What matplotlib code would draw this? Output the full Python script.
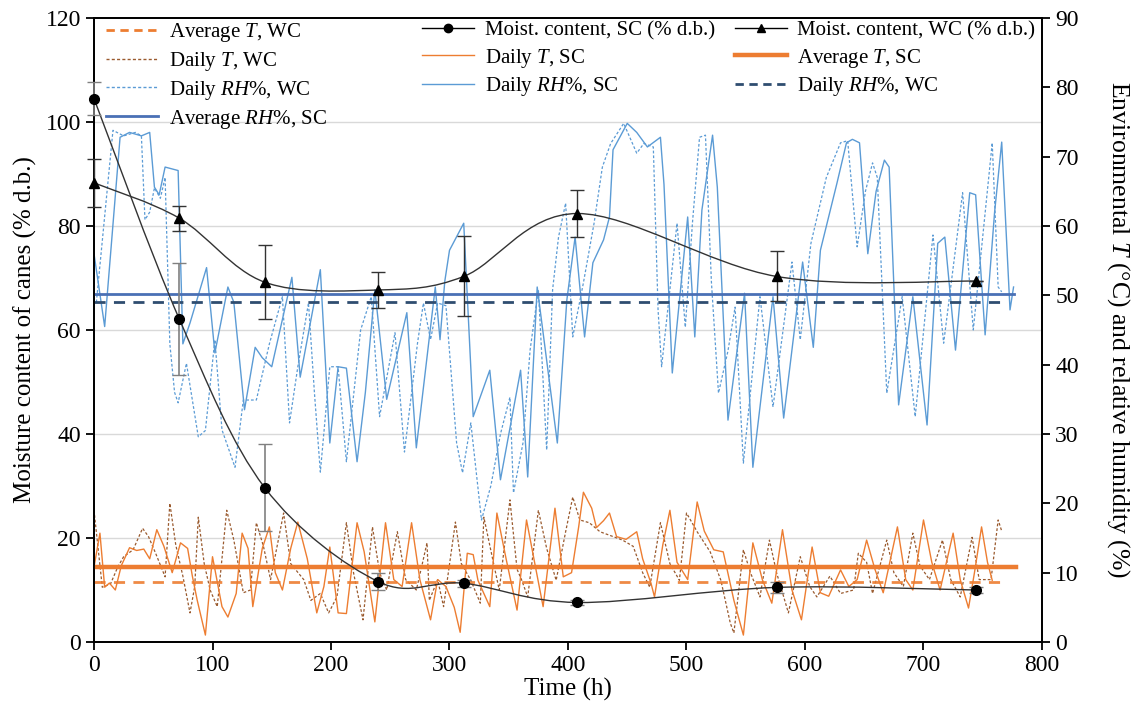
import numpy as np
import matplotlib
matplotlib.use("Agg")
import matplotlib.pyplot as plt
from matplotlib.path import Path
from matplotlib.patches import PathPatch
from matplotlib.lines import Line2D
from matplotlib.legend import Legend

plt.rcParams['font.family'] = ['Liberation Serif', 'DejaVu Serif']
plt.rcParams['mathtext.fontset'] = 'custom'
plt.rcParams['mathtext.rm'] = 'Liberation Serif'
plt.rcParams['mathtext.it'] = 'Liberation Serif:italic'

# moisture content of canes (left axis, % d.b.)
sample_h = [0, 72, 144, 240, 312, 408, 576, 744]
mc_sc = [104.5, 62.1, 29.7, 11.6, 11.3, 7.6, 10.5, 10.0]
mc_sc_err = [3.2, 10.8, 8.3, 1.6, 0.7, 0.4, 1.0, 0.5]
mc_wc = [88.3, 81.5, 69.2, 67.7, 70.3, 82.4, 70.3, 69.4]
mc_wc_err = [4.6, 2.4, 7.1, 3.4, 7.7, 4.6, 4.8, 0.0]

# daily relative humidity (right axis, %)
rh_sc_t = [0, 9, 22, 30, 40, 47, 51, 55, 60, 71, 75, 81, 95, 102, 113, 118, 127, 136, 142, 150,
           167, 174, 191, 199, 206, 213, 222, 229, 237, 247, 264, 272, 288, 292, 296, 300, 312, 320,
           334, 343, 360, 366, 374, 391, 399, 406, 414, 421, 430, 435, 438, 450, 458, 467, 478, 481,
           488, 501, 507, 513, 522, 526, 535, 549, 556, 573, 582, 598, 607, 613, 627, 635, 640, 646,
           653, 660, 667, 671, 679, 691, 703, 712, 718, 727, 739, 744, 752, 760, 766, 773, 776]
rh_sc = [56, 45.5, 72.8, 73.5, 73, 73.5, 65.6, 64.5, 68.5, 68, 43, 46, 54, 41.7, 51.2, 49, 33.5, 42.5, 41, 39.7,
         52.6, 38.2, 53.7, 28.7, 39.7, 39.5, 26, 36, 50.8, 35, 47.5, 28, 51.2, 43.6, 52, 56.5, 60.4, 32.5,
         39.2, 23.4, 39.2, 23.8, 51.2, 28.7, 49.3, 58.4, 44, 54.7, 58, 61.3, 71, 74.8, 73.5, 71.4, 72.8, 66,
         38.8, 61.3, 44, 62.3, 73.1, 65.6, 32, 50.3, 25.2, 49.8, 32.3, 54.8, 42.5, 56.5, 66.2, 72, 72.5, 72,
         56, 65, 69.5, 68.5, 34.2, 49.8, 31.3, 57.5, 58.4, 42.1, 64.8, 64.5, 44.3, 62, 72.1, 47.9, 51.2]

rh_wc_t = [2, 16, 25, 35, 40, 43, 47, 51, 56, 60, 64, 68, 71, 78, 88, 94, 102, 108, 119, 126, 137, 148,
           159, 165, 172, 181, 186, 191, 199, 206, 213, 225, 234, 241, 254, 262, 273, 278, 284, 290, 297,
           306, 311, 318, 327, 335, 343, 351, 354, 362, 368, 375, 382, 387, 392, 398, 404, 413, 422, 429,
           436, 447, 458, 464, 472, 476, 479, 492, 499, 505, 511, 516, 521, 527, 535, 541, 548, 562, 573,
           589, 596, 605, 618, 630, 636, 644, 651, 657, 661, 669, 682, 693, 708, 717, 733, 742, 758, 763, 766]
rh_wc = [49, 73.8, 73, 73.5, 73, 60.9, 62, 65.5, 64, 67, 43, 36, 34.5, 40.2, 29.6, 30.5, 43.6, 30.6, 25.2, 34.9, 34.9, 43,
         49.8, 31.6, 39.7, 48.9, 36, 24.5, 39.7, 39.7, 26, 45, 49.8, 32.5, 44.6, 27.4, 43.1, 48.9, 43.6, 48.9, 48.5,
         28.7, 24.4, 31.6, 17.6, 22.6, 30, 35.3, 21.5, 28.7, 42.1, 50.8, 27.7, 50.8, 58.4, 63.3, 44, 51.8, 60.4, 68.5,
         71.9, 74.8, 70.5, 71.9, 71.4, 47.9, 39.7, 60.4, 45.4, 60.4, 72.8, 73.1, 52, 35.9, 42, 48.3, 25.8, 49.8, 33.9,
         54.8, 43.6, 57.5, 67, 72, 72.3, 57, 65, 69.1, 67, 35.9, 49.8, 32.5, 58.7, 43.1, 64.8, 45, 72, 51.2, 50.5]

# daily temperature (right axis, degC)
t_sc_t = [0, 5, 9, 13, 18, 23, 30, 36, 42, 47, 53, 59, 66, 73, 79, 83, 87, 94, 100, 108, 113, 120, 125, 130,
          134, 142, 148, 153, 159, 166, 172, 180, 188, 194, 199, 206, 213, 222, 228, 237, 246, 253, 260, 268,
          275, 284, 290, 297, 304, 309, 315, 320, 324, 334, 340, 348, 357, 365, 371, 379, 389, 396, 403, 409,
          413, 420, 424, 430, 435, 441, 449, 458, 463, 470, 473, 480, 486, 492, 501, 509, 515, 523, 531, 540,
          548, 556, 564, 572, 581, 589, 597, 606, 613, 620, 630, 637, 644, 652, 659, 666, 678, 685, 691, 700,
          707, 714, 725, 731, 738, 743, 749, 754, 758]
t_sc = [10.8, 15.7, 7.9, 8.5, 7.5, 11, 13.6, 13.2, 13.4, 12, 16.2, 13.8, 10, 14.3, 13.5, 9.5, 6.1, 1, 12.3, 5.1, 3.6, 7, 15.7, 13.5,
        5.1, 13.5, 16.6, 10, 7.5, 13.5, 17.3, 12, 4.2, 8, 13.7, 4.2, 4.1, 17.2, 13, 2.9, 17.2, 9, 8, 17.2,
        9, 3.2, 9, 8, 5, 1.4, 12.8, 12.6, 8.9, 5.1, 18.6, 11.8, 4.6, 17.6, 12.2, 5.1, 19.3, 9.4, 10, 16.6,
        21.6, 19.3, 16.5, 17.5, 18.6, 15.2, 14.8, 15.9, 12, 8.5, 6.5, 14, 19, 11.5, 9, 20.2, 16, 13.3, 13, 6,
        1, 14.3, 9, 5.6, 16.2, 7.5, 3.2, 13.7, 7.1, 6.6, 10.4, 8, 9, 14.7, 10.5, 7.1, 16.6, 9, 7.5, 17.6,
        11.5, 7.5, 15.7, 9, 4.9, 10, 16.6, 11.5, 8.9]

t_wc_t = [0, 7, 14, 20, 25, 33, 41, 46, 52, 60, 64, 69, 75, 81, 85, 88, 93, 98, 104, 112, 118, 126, 132, 137,
          143, 149, 160, 166, 177, 183, 191, 198, 205, 213, 219, 227, 235, 241, 247, 256, 263, 272, 278, 281,
          283, 290, 295, 305, 310, 318, 326, 329, 336, 342, 351, 357, 361, 366, 375, 382, 390, 398, 404, 410,
          418, 427, 435, 446, 455, 463, 469, 478, 486, 494, 500, 509, 520, 529, 537, 540, 548, 554, 562, 570,
          576, 586, 596, 604, 610, 621, 630, 641, 645, 652, 657, 669, 675, 683, 691, 697, 705, 716, 723, 731,
          741, 747, 757, 763, 766]
t_wc = [19, 7.9, 8.4, 10.8, 12.3, 13.3, 16.4, 15.2, 12.8, 9.4, 20, 14, 9.5, 4.2, 8, 18, 11.3, 7.5, 5.1, 19, 14.7, 7.1, 7.5, 17.2,
        13.8, 9, 18.6, 11.3, 9, 6, 7, 4.2, 6.5, 17.2, 10, 3.2, 16.6, 10, 7.5, 15.9, 9, 7.5, 12, 14.3,
        6, 9, 5.1, 17.3, 11.3, 8.9, 5.6, 18, 12.3, 7.5, 20.5, 10.5, 8.9, 6.5, 19, 13.5, 8.9, 15.9, 20.9, 17.6,
        17.2, 15.9, 15.4, 14.7, 13.8, 10, 7.9, 17.2, 11.3, 8.9, 18.6, 15.9, 13, 8.9, 2.7, 1.3, 13.3, 10, 6.5, 14.7,
        10, 4.2, 12.3, 8, 6.5, 9.5, 7, 7.5, 12.8, 11.5, 7, 14.7, 10, 8, 15.7, 11, 9, 14.7, 9, 6.5,
        15.1, 9, 9, 17.6, 16]

# averages (right axis) and where each average line ends
avg_rh_sc, avg_rh_wc = 50.2, 49.1
avg_t_sc, avg_t_wc = 10.85, 8.6
avg_end = {'rh_sc': 776, 'rh_wc': 768, 't_sc': 778, 't_wc': 768}

c_rh = '#5b9bd5'
c_rh_avg = '#4a70b5'
c_rh_avg_wc = '#2f4d70'
c_t = '#ed7d31'
c_t_wc = '#9a5a2e'
dotted = (0, (2.2, 1.6))


def smooth_path(x, y):
    # bezier path through the points (Excel-style smoothed line)
    n = len(x)
    verts = [(x[0], y[0])]
    codes = [Path.MOVETO]
    for i in range(n - 1):
        a, b = max(i - 1, 0), min(i + 2, n - 1)
        c1 = (x[i] + (x[i + 1] - x[a]) / 6, y[i] + (y[i + 1] - y[a]) / 6)
        c2 = (x[i + 1] - (x[b] - x[i]) / 6, y[i + 1] - (y[b] - y[i]) / 6)
        verts += [c1, c2, (x[i + 1], y[i + 1])]
        codes += [Path.CURVE4] * 3
    return Path(verts, codes)


fig = plt.figure(figsize=(11.34, 7.07), dpi=100)
ax = fig.add_axes([94 / 1134, 65 / 707, 948 / 1134, 624 / 707])
ax2 = ax.twinx()
ax.set_zorder(ax2.get_zorder() + 1)
ax.patch.set_visible(False)

# grid lines of the left scale, drawn in the right axes so they stay behind
for g in np.arange(20, 101, 20):
    ax2.axhline(g * 90 / 120, color='#d9d9d9', lw=1.0, zorder=0)

ax2.plot(rh_wc_t, rh_wc, color=c_rh, lw=0.9, ls=dotted, zorder=2)
ax2.plot(rh_sc_t, rh_sc, color=c_rh, lw=1.0, zorder=2)
ax2.plot(t_wc_t, t_wc, color=c_t_wc, lw=0.9, ls=dotted, zorder=2)
ax2.plot(t_sc_t, t_sc, color=c_t, lw=1.0, zorder=2)
ax2.plot([0, avg_end['rh_sc']], [avg_rh_sc] * 2, color=c_rh_avg, lw=2.0, zorder=3)
ax2.plot([0, avg_end['rh_wc']], [avg_rh_wc] * 2, color=c_rh_avg_wc, lw=2.0, ls=(0, (4, 3)), zorder=3)
ax2.plot([0, avg_end['t_sc']], [avg_t_sc] * 2, color=c_t, lw=3.2, zorder=3)
ax2.plot([0, avg_end['t_wc']], [avg_t_wc] * 2, color=c_t, lw=2.0, ls=(0, (4, 3)), alpha=0.9, zorder=3)

ax.add_patch(PathPatch(smooth_path(sample_h, mc_sc), fc='none', ec='#333333', lw=1.0))
ax.add_patch(PathPatch(smooth_path(sample_h, mc_wc), fc='none', ec='#333333', lw=1.0))
ax.errorbar(sample_h, mc_sc, yerr=mc_sc_err, fmt='o', color='black', ms=7, ecolor='#808080',
            elinewidth=1.2, capsize=5, capthick=1.0, clip_on=False, zorder=4)
ax.errorbar(sample_h, mc_wc, yerr=mc_wc_err, fmt='^', color='black', ms=7, ecolor='#333333',
            elinewidth=1.0, capsize=5, capthick=1.0, clip_on=False, zorder=4)

ax.set_xlim(0, 800)
ax.set_ylim(0, 120)
ax2.set_ylim(0, 90)
ax.set_xticks(np.arange(0, 801, 100))
ax.set_yticks(np.arange(0, 121, 20))
ax2.set_yticks(np.arange(0, 91, 10))
for a in (ax, ax2):
    a.tick_params(labelsize=17, width=1.3, length=6)
    for s in a.spines.values():
        s.set_linewidth(1.3)

ax.set_xlabel('Time (h)', fontsize=18, labelpad=1)
ax.set_ylabel('Moisture content of canes (% d.b.)', fontsize=18, labelpad=6)
ax2.set_ylabel('Environmental $T$ (°C) and relative humidity (%)', fontsize=18.5,
               rotation=270, labelpad=38)

h_avg_t_wc = Line2D([], [], color=c_t, lw=2.0, ls=(0, (3, 2)))
h_day_t_wc = Line2D([], [], color=c_t_wc, lw=1.0, ls=dotted)
h_day_rh_wc = Line2D([], [], color=c_rh, lw=1.0, ls=dotted)
h_avg_rh_sc = Line2D([], [], color=c_rh_avg, lw=2.0)
h_mc_sc = Line2D([], [], color='black', lw=1.0, marker='o', ms=6)
h_day_t_sc = Line2D([], [], color=c_t, lw=1.0)
h_day_rh_sc = Line2D([], [], color=c_rh, lw=1.0)
h_mc_wc = Line2D([], [], color='black', lw=1.0, marker='^', ms=6)
h_avg_t_sc = Line2D([], [], color=c_t, lw=3.2)
h_avg_rh_wc = Line2D([], [], color=c_rh_avg_wc, lw=2.0, ls=(0, (3, 2)))

columns = [
    ([h_avg_t_wc, h_day_t_wc, h_day_rh_wc, h_avg_rh_sc],
     ['Average $T$, WC', 'Daily $T$, WC', 'Daily $RH$%, WC', 'Average $RH$%, SC'], 0.013),
    ([h_mc_sc, h_day_t_sc, h_day_rh_sc],
     ['Moist. content, SC (% d.b.)', 'Daily $T$, SC', 'Daily $RH$%, SC'], 0.346),
    ([h_mc_wc, h_avg_t_sc, h_avg_rh_wc],
     ['Moist. content, WC (% d.b.)', 'Average $T$, SC', 'Daily $RH$%, WC'], 0.676),
]
for handles, labels, xpos in columns:
    leg = Legend(ax, handles, labels, loc='upper left', bbox_to_anchor=(xpos, 0.995),
                 frameon=False, fontsize=15, borderpad=0, borderaxespad=0,
                 handlelength=2.5, handletextpad=0.5, labelspacing=0.28)
    ax.add_artist(leg)

fig.savefig('out.png', dpi=100)
